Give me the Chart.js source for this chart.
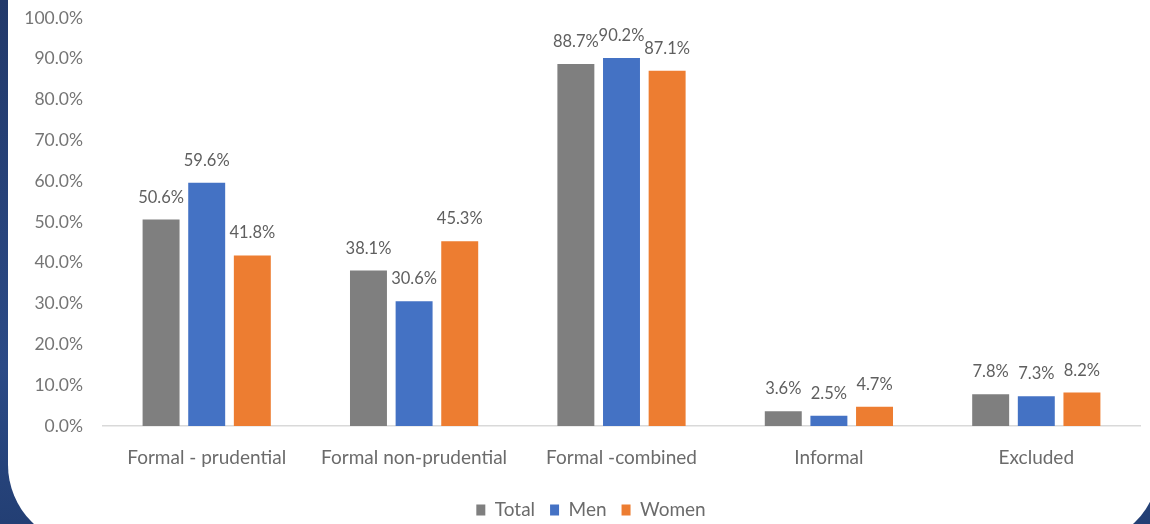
<!DOCTYPE html>
<html>
<head>
<meta charset="utf-8">
<script src="https://cdn.jsdelivr.net/npm/chart.js@4.4.0/dist/chart.umd.min.js"></script>
<style>
  html, body { margin: 0; padding: 0; }
  body {
    width: 1150px; height: 524px; overflow: hidden; position: relative;
    background: linear-gradient(180deg, #22396a 0%, #2b4a86 70%, #233f74 100%);
  }
  .card {
    position: absolute; left: 8px; top: -80px; width: 1151px; height: 625px;
    background: #fff; border-radius: 0 0 80px 80px;
  }
  #wrap { position: absolute; left: 0; top: 0; width: 1150px; height: 524px; }
</style>
</head>
<body>
<div class="card"></div>
<div id="wrap"><canvas id="chart"></canvas></div>
<script>
var categories = ['Formal - prudential', 'Formal non-prudential', 'Formal -combined', 'Informal', 'Excluded'];
var totalValues = [50.6, 38.1, 88.7, 3.6, 7.8];
var menValues = [59.6, 30.6, 90.2, 2.5, 7.3];
var womenValues = [41.8, 45.3, 87.1, 4.7, 8.2];
var yTicks = [0, 10, 20, 30, 40, 50, 60, 70, 80, 90, 100];

var FONT = 'Lato, "Liberation Sans", sans-serif';

// writes each bar's value just above it
var barLabels = {
  id: 'barLabels',
  afterDatasetsDraw: function(chart) {
    var ctx = chart.ctx;
    ctx.save();
    ctx.font = '16.5px ' + FONT;
    ctx.fillStyle = '#5f5f5f';
    ctx.textAlign = 'center';
    ctx.textBaseline = 'alphabetic';
    chart.data.datasets.forEach(function(ds, i) {
      chart.getDatasetMeta(i).data.forEach(function(bar, j) {
        ctx.fillText(ds.data[j].toFixed(1) + '%', bar.x, bar.y - 17);
      });
    });
    ctx.restore();
  }
};

// nudge the legend a little to the right of the canvas centre
var legendNudge = {
  id: 'legendNudge',
  afterLayout: function(chart) {
    chart.legend.left += 21;
    chart.legend.right += 21;
  }
};

new Chart(document.getElementById('chart'), {
  type: 'bar',
  data: {
    labels: categories,
    datasets: [
      { label: 'Total', data: totalValues, backgroundColor: '#7f7f7f' },
      { label: 'Men', data: menValues, backgroundColor: '#4472c4' },
      { label: 'Women', data: womenValues, backgroundColor: '#ed7d31' }
    ]
  },
  options: {
    responsive: true,
    maintainAspectRatio: false,
    animation: false,
    layout: { padding: { left: 0, right: 10, top: 18, bottom: -5.5 } },
    datasets: { bar: { categoryPercentage: 0.66, barPercentage: 0.81 } },
    scales: {
      x: {
        grid: { display: false, drawTicks: false },
        border: { display: true, color: '#d9d9d9', width: 1.5 },
        ticks: { color: '#6b6b6b', font: { family: FONT, size: 19 }, padding: 20, maxRotation: 0 },
        afterFit: function(scale) { scale.height = 59.5; }
      },
      y: {
        min: 0, max: 100,
        afterBuildTicks: function(scale) {
          scale.ticks = yTicks.map(function(v) { return { value: v }; });
        },
        grid: { display: false, drawTicks: false },
        border: { display: false },
        ticks: {
          color: '#757575', font: { family: FONT, size: 17.5 }, padding: 20,
          callback: function(v) { return v.toFixed(1) + '%'; }
        },
        afterFit: function(scale) {
          scale.width = 103;
          scale.paddingTop = 0;
          scale.paddingBottom = 0;
        }
      }
    },
    plugins: {
      legend: {
        position: 'bottom',
        labels: {
          color: '#6b6b6b', font: { family: FONT, size: 19 },
          boxWidth: 9, boxHeight: 11, padding: 15
        }
      },
      tooltip: { enabled: false }
    }
  },
  plugins: [barLabels, legendNudge]
});
</script>
</body>
</html>
